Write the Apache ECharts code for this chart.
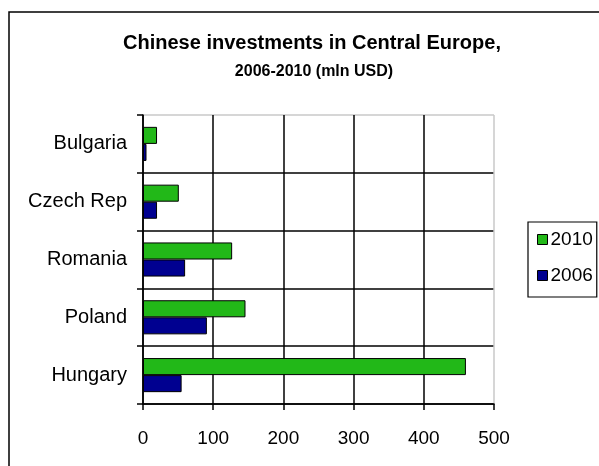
<!DOCTYPE html>
<html>
<head>
<meta charset="utf-8">
<script src="https://cdn.jsdelivr.net/npm/echarts@6/dist/echarts.min.js"></script>
<style>
  html, body { margin: 0; padding: 0; background: #fff; }
  #chart { width: 599px; height: 466px; }
</style>
</head>
<body>
<div id="chart"></div>
<script>
// Countries, listed bottom to top along the category axis
const countries = ['Hungary', 'Poland', 'Romania', 'Czech Rep', 'Bulgaria'];
// Chinese investment, million USD
const values2010 = [460, 146, 127, 51, 20];
const values2006 = [55, 91, 60, 20, 5];
const xTicks = [0, 100, 200, 300, 400, 500];

const FONT = '"Liberation Sans", Arial, sans-serif';
const chart = echarts.init(document.getElementById('chart'));

chart.setOption({
  animation: false,
  backgroundColor: '#fff',
  textStyle: { fontFamily: FONT },
  graphic: [{
    type: 'rect',
    shape: { x: 9, y: 12, width: 620, height: 480 },
    style: { fill: 'none', stroke: '#000', lineWidth: 1.5 },
    z: -1
  }],
  title: [{
    text: 'Chinese investments in Central Europe,',
    left: 307, top: 28.5, textAlign: 'center',
    textStyle: { fontFamily: FONT, fontSize: 20, fontWeight: 'bold', color: '#000' }
  }, {
    text: '2006-2010 (mln USD)',
    left: 309, top: 58.5, textAlign: 'center',
    textStyle: { fontFamily: FONT, fontSize: 16, fontWeight: 'bold', color: '#000' }
  }],
  legend: {
    data: ['2010', '2006'],
    orient: 'vertical',
    left: 528, top: 222,
    itemWidth: 10, itemHeight: 10, itemGap: 17,
    padding: [8, 4, 12, 9],
    borderColor: '#000', borderWidth: 1.2,
    icon: 'rect',
    itemStyle: { borderColor: '#000', borderWidth: 1 },
    textStyle: { fontFamily: FONT, fontSize: 19, color: '#000', padding: [0, 0, 0, -2] }
  },
  grid: { left: 143, right: 105, top: 115, bottom: 62 },
  xAxis: {
    type: 'value',
    min: xTicks[0], max: xTicks[xTicks.length - 1], interval: 100,
    axisLine: { show: true, lineStyle: { color: '#000', width: 1.5 } },
    axisTick: { show: true, length: 6, lineStyle: { color: '#000', width: 1.5 } },
    axisLabel: { margin: 25, fontSize: 19, color: '#000', fontFamily: FONT },
    splitLine: { show: true, lineStyle: { color: ['#000', '#000', '#000', '#000', '#000', '#c8c8c8'], width: 1.5 } }
  },
  yAxis: {
    type: 'category',
    data: countries,
    axisLine: { show: true, lineStyle: { color: '#000', width: 1.5 } },
    axisTick: { show: true, length: 6, lineStyle: { color: '#000', width: 1.5 } },
    axisLabel: { margin: 16, fontSize: 20, color: '#000', fontFamily: FONT },
    splitLine: { show: true, lineStyle: { color: ['#000', '#000', '#000', '#000', '#000', '#c8c8c8'], width: 1.5 } }
  },
  series: [{
    name: '2010', type: 'bar', data: values2010,
    barGap: '0%', barCategoryGap: '41%',
    itemStyle: { color: '#22B818', borderColor: '#000', borderWidth: 1 }
  }, {
    name: '2006', type: 'bar', data: values2006,
    barGap: '0%', barCategoryGap: '41%',
    itemStyle: { color: '#000090', borderColor: '#000', borderWidth: 1 }
  }]
});
</script>
</body>
</html>
